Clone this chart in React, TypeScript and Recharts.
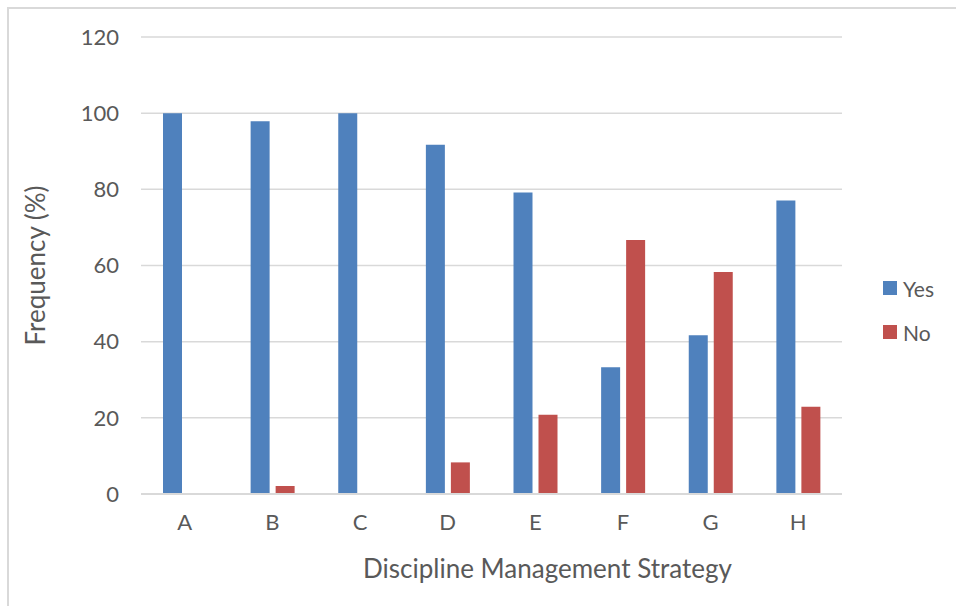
import React from 'react';
import { BarChart, Bar, XAxis, YAxis, CartesianGrid, Legend } from 'recharts';

const categories = ['A', 'B', 'C', 'D', 'E', 'F', 'G', 'H'];
const yesValues = [100, 97.9, 100, 91.7, 79.2, 33.3, 41.7, 77.1];
const noValues = [0, 2.1, 0, 8.3, 20.8, 66.7, 58.3, 22.9];
const yTicks = [0, 20, 40, 60, 80, 100, 120];

const data = categories.map((c, i) => ({ name: c, Yes: yesValues[i], No: noValues[i] }));

const FONT = 'Lato, "Open Sans", sans-serif';
const TEXT = '#595959';
const BLUE = '#4F81BD';
const RED = '#C0504D';

const LegendContent = () => (
  <div style={{ fontFamily: FONT, color: TEXT, fontSize: 21 }}>
    {[{ n: 'Yes', c: BLUE }, { n: 'No', c: RED }].map((it) => (
      <div key={it.n} style={{ display: 'flex', alignItems: 'center', height: 44 }}>
        <span style={{ width: 14, height: 14, background: it.c, display: 'inline-block', marginRight: 6 }} />
        <span>{it.n}</span>
      </div>
    ))}
  </div>
);

const YTitle = (props: any) => {
  const vb = props.viewBox || {};
  const cx = vb.x + 35;
  const cy = vb.y + vb.height / 2;
  return (
    <text x={cx} y={cy} transform={`rotate(-90 ${cx} ${cy})`} textAnchor="middle" dominantBaseline="central"
      fill={TEXT} fontSize={26} fontFamily={FONT}>
      Frequency (%)
    </text>
  );
};

export default function App() {
  return (
    <div style={{ position: 'absolute', left: 0, top: 0, width: 956, height: 606, background: '#fff', overflow: 'hidden' }}>
      <div style={{ position: 'absolute', left: 7, top: 7, width: 1000, height: 1000, borderTop: '2px solid #d9d9d9', borderLeft: '2px solid #d9d9d9' }} />
      <div style={{ position: 'absolute', left: 0, top: 0 }}>
        <BarChart width={956} height={606} data={data} margin={{ top: 37, right: 114, bottom: 0, left: 0 }}
          barSize={19} barGap={6}>
          <CartesianGrid vertical={false} stroke="#d9d9d9" strokeWidth={1.5} />
          <XAxis dataKey="name" height={112} axisLine={{ stroke: '#d9d9d9', strokeWidth: 2 }} tickLine={false}
            tickSize={0} tickMargin={20} tick={{ fill: TEXT, fontSize: 22, fontFamily: FONT }}
            label={{ value: 'Discipline Management Strategy', position: 'insideBottom', offset: 28, dx: 56, fill: TEXT, fontSize: 26, fontFamily: FONT }} />
          <YAxis width={141} domain={[0, 120]} ticks={yTicks} axisLine={false} tickLine={false} tickSize={0}
            tickMargin={22} tick={{ fill: TEXT, fontSize: 22, fontFamily: FONT }} label={<YTitle />} />
          <Legend layout="vertical" align="center" verticalAlign="middle"
            wrapperStyle={{ left: 883, top: 266, width: 80 }} content={<LegendContent />} />
          <Bar dataKey="Yes" fill={BLUE} isAnimationActive={false} />
          <Bar dataKey="No" fill={RED} isAnimationActive={false} />
        </BarChart>
      </div>
    </div>
  );
}
